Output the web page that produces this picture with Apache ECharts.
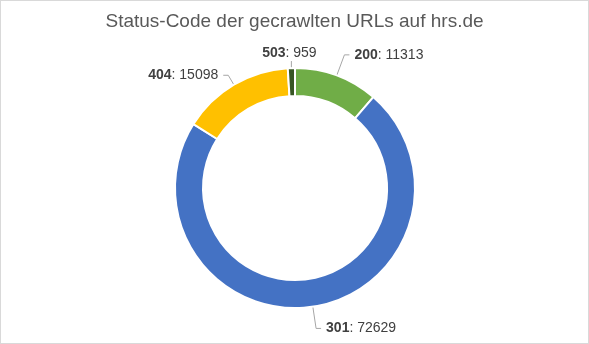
<!DOCTYPE html>
<html>
<head>
<meta charset="utf-8">
<script src="https://cdn.jsdelivr.net/npm/echarts@6/dist/echarts.min.js"></script>
<style>
  html, body { margin: 0; padding: 0; background: #fff; }
  #chart { width: 589px; height: 344px; box-sizing: border-box; border: 1px solid #d9d9d9; }
</style>
</head>
<body>
<div id="chart"></div>
<script>
// Status codes of crawled URLs and their counts
const codes = ['200', '301', '404', '503'];
const counts = [11313, 72629, 15098, 959];
const colors = ['#70AD47', '#4472C4', '#FFC000', '#375623'];
const lineLengths = [22, 22, 11, 22];

const chart = echarts.init(document.getElementById('chart'), null, { renderer: 'canvas' });

const smallIndex = codes.indexOf('503');
const FONT = 'Liberation Sans, Arial, sans-serif';

chart.setOption({
  animation: false,
  title: {
    text: 'Status-Code der gecrawlten URLs auf hrs.de',
    left: 'center',
    top: 6,
    textStyle: { fontFamily: FONT, fontSize: 19, fontWeight: 'normal', color: '#595959' }
  },
  series: [{
    type: 'pie',
    center: [294, 187],
    radius: [92, 120],
    startAngle: 90,
    clockwise: true,
    avoidLabelOverlap: false,
    itemStyle: { borderColor: '#fff', borderWidth: 2 },
    label: {
      show: true,
      position: 'outside',
      formatter: '{b|{b}}: {c}',
      fontFamily: FONT,
      fontSize: 14,
      color: '#404040',
      rich: {
        b: { fontWeight: 'bold', fontSize: 14, color: '#404040', fontFamily: FONT }
      }
    },
    labelLine: {
      show: true,
      length: 22,
      length2: 5,
      lineStyle: { color: '#a6a6a6', width: 1 }
    },
    labelLayout: function (params) {
      // the thin 503 slice gets its label centred straight above it
      if (params.dataIndex === smallIndex && params.labelLinePoints) {
        const p0 = params.labelLinePoints[0];
        const top = p0[1] - 7;
        return {
          x: p0[0] - 2,
          y: top - 1,
          align: 'center',
          verticalAlign: 'bottom',
          labelLinePoints: [p0, [p0[0], top], [p0[0], top]]
        };
      }
      return {};
    },
    data: codes.map((c, i) => ({
      name: c,
      value: counts[i],
      itemStyle: { color: colors[i] },
      labelLine: { length: lineLengths[i] }
    }))
  }]
});
</script>
</body>
</html>
